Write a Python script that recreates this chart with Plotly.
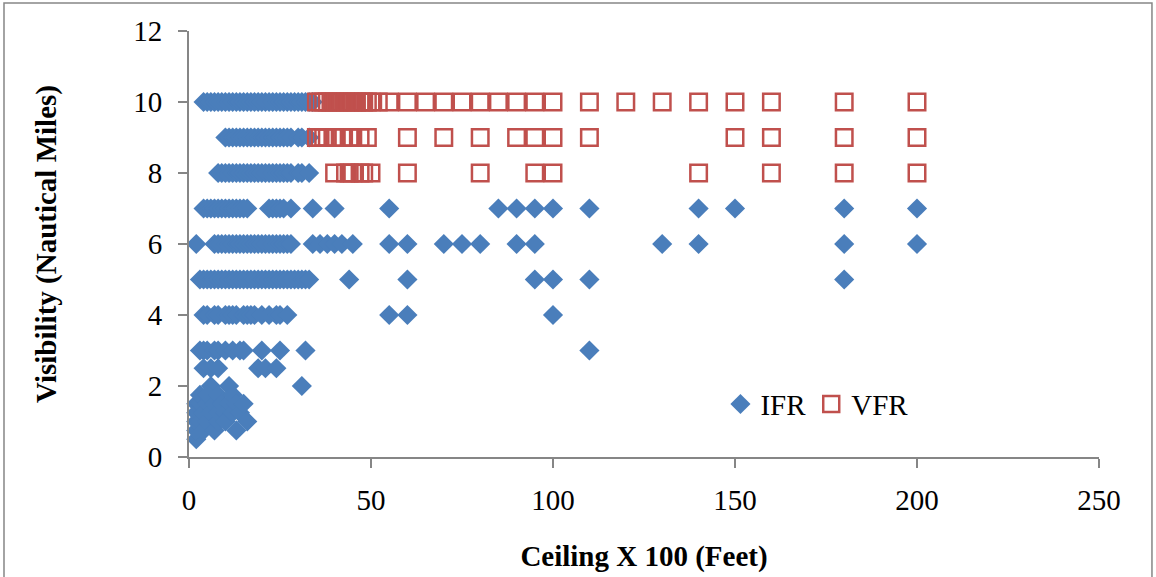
import plotly.graph_objects as go

# Ceiling (x 100 ft) values for IFR observations, one list per visibility level
ifr_vis10 = [4, 5, 6, 7, 8, 9, 10, 11, 12, 13, 14, 15, 16, 17, 18, 19, 20, 21, 22, 23,
             24, 25, 26, 27, 28, 29, 30, 31, 32, 33, 34]
ifr_vis9 = [10, 11, 12, 13, 14, 15, 16, 17, 18, 19, 20, 21, 22, 23, 24, 25, 26, 27, 28,
            30, 31, 33]
ifr_vis8 = [8, 9, 10, 11, 12, 13, 14, 15, 16, 17, 18, 19, 20, 21, 22, 23, 24, 25, 26,
            27, 28, 30, 31, 33]
ifr_vis7 = [4, 5, 6, 7, 8, 9, 10, 11, 12, 13, 14, 15, 16, 22, 23, 24, 25, 26, 28, 34,
            40, 55, 85, 90, 95, 100, 110, 140, 150, 180, 200]
ifr_vis6 = [2, 7, 8, 9, 10, 11, 12, 13, 14, 15, 16, 17, 18, 19, 20, 21, 22, 23, 24, 25,
            26, 27, 28, 34, 36, 38, 40, 42, 45, 55, 60, 70, 75, 80, 90, 95, 130, 140,
            180, 200]
ifr_vis5 = [3, 4, 5, 6, 7, 8, 9, 10, 11, 12, 13, 14, 15, 16, 17, 18, 19, 20, 21, 22, 23,
            24, 25, 26, 27, 28, 29, 30, 31, 32, 33, 44, 60, 95, 100, 110, 180]
ifr_vis4 = [4, 5, 7, 8, 10, 11, 12, 13, 15, 16, 17, 18, 20, 22, 24, 25, 27, 55, 60, 100]
ifr_vis3 = [3, 4, 5, 7, 8, 10, 12, 14, 15, 20, 25, 32, 110]
ifr_vis2_5 = [4, 6, 8, 19, 21, 24]
ifr_vis2 = [6, 11, 31]
# Low-visibility IFR observations (ceiling, visibility)
ifr_low_ceiling = [2, 2, 2, 2, 2, 3, 3, 3, 4, 4, 5, 5, 5, 6, 7, 7, 8, 8, 8, 9, 10, 10,
                   11, 12, 12, 13, 13, 14, 15, 16]
ifr_low_visibility = [0.5, 0.75, 1, 1.25, 1.5, 1, 1.5, 1.75, 1.25, 0.75, 1, 1.5, 1.75,
                      1.25, 1.5, 0.75, 1, 1.25, 1.75, 1.5, 1.25, 1, 1.5, 1.75, 1.25,
                      0.75, 1.5, 1.25, 1.5, 1]

# Ceiling values for VFR observations
vfr_vis10 = [35, 36, 37, 38, 39, 40, 41, 42, 43, 44, 45, 46, 47, 48, 49, 50, 52, 55,
             60, 65, 70, 75, 80, 85, 90, 95, 100, 110, 120, 130, 140, 150, 160, 180, 200]
vfr_vis9 = [35, 36, 37, 38, 40, 42, 44, 45, 47, 49, 60, 70, 80, 90, 95, 100, 110,
            150, 160, 180, 200]
vfr_vis8 = [40, 43, 44, 45, 47, 48, 50, 60, 80, 95, 100, 140, 160, 180, 200]

x_ticks = [0, 50, 100, 150, 200, 250]
y_ticks = [0, 2, 4, 6, 8, 10, 12]


def expand(rows):
    xs, ys = [], []
    for vis, ceilings in rows:
        xs.extend(ceilings)
        ys.extend([vis] * len(ceilings))
    return xs, ys


ifr_x, ifr_y = expand([(10, ifr_vis10), (9, ifr_vis9), (8, ifr_vis8), (7, ifr_vis7),
                       (6, ifr_vis6), (5, ifr_vis5), (4, ifr_vis4), (3, ifr_vis3),
                       (2.5, ifr_vis2_5), (2, ifr_vis2)])
ifr_x += ifr_low_ceiling
ifr_y += ifr_low_visibility

vfr_x, vfr_y = expand([(10, vfr_vis10), (9, vfr_vis9), (8, vfr_vis8)])

SERIF = "Liberation Serif, Times New Roman, serif"
AXIS_GRAY = "#868686"

fig = go.Figure()
fig.add_trace(go.Scatter(
    x=ifr_x, y=ifr_y, mode="markers", name="IFR", cliponaxis=False,
    marker=dict(symbol="diamond", size=15.5, color="#4A7EBB", line=dict(width=0)),
))
fig.add_trace(go.Scatter(
    x=vfr_x, y=vfr_y, mode="markers", name="VFR", cliponaxis=False,
    marker=dict(symbol="square-open", size=16.5, color="#C0504D",
                line=dict(width=2.5, color="#C0504D")),
))

fig.update_layout(
    width=1156, height=577,
    margin=dict(l=189, r=57, t=31, b=120, autoexpand=False),
    paper_bgcolor="white", plot_bgcolor="white",
    font=dict(family=SERIF, size=29, color="black"),
    legend=dict(orientation="h", x=0.584, y=0.124, xanchor="left", yanchor="middle",
                bgcolor="rgba(0,0,0,0)", font=dict(size=29), itemwidth=30,
                traceorder="normal"),
    showlegend=True,
)
fig.update_xaxes(
    range=[0, 250], tickvals=x_ticks, ticks="outside", ticklen=9, tickwidth=2,
    tickcolor=AXIS_GRAY, showline=True, linecolor=AXIS_GRAY, linewidth=2,
    showgrid=False, zeroline=False, ticklabelstandoff=7, automargin=False,
    title=dict(text="<b>Ceiling X 100 (Feet)</b>", font=dict(size=29), standoff=31),
)
fig.update_yaxes(
    range=[0, 12], tickvals=y_ticks, ticks="outside", ticklen=9, tickwidth=2,
    tickcolor=AXIS_GRAY, showline=True, linecolor=AXIS_GRAY, linewidth=2,
    showgrid=False, zeroline=False, ticklabelstandoff=10, automargin=False,
    title=dict(text="<b>Visibility (Nautical Miles)</b>", font=dict(size=29), standoff=68),
)

# Chart border
fig.add_shape(type="rect", xref="paper", yref="paper",
              x0=-0.2033, x1=1.0582, y0=-0.30, y1=1.0657,
              line=dict(color=AXIS_GRAY, width=1.5), fillcolor="rgba(0,0,0,0)",
              layer="below")

fig.write_html("out.html")
